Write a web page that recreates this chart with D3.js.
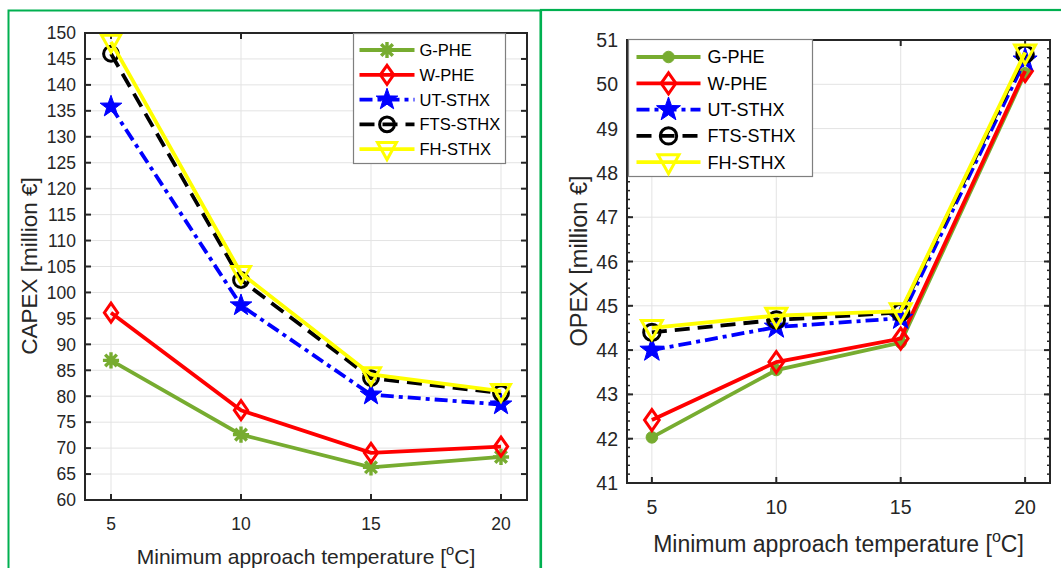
<!DOCTYPE html>
<html>
<head>
<meta charset="utf-8">
<script src="https://cdn.jsdelivr.net/npm/d3@7"></script>
<style>
  body { margin: 0; background: #fff; }
  svg { display: block; font-family: "Liberation Sans", Arial, sans-serif; }
</style>
</head>
<body>
<svg id="chart" width="1061" height="568"></svg>
<script>
//DATA
var temps = [5, 10, 15, 20];
var seriesNames = ["G-PHE", "W-PHE", "UT-STHX", "FTS-STHX", "FH-STHX"];
var xTicks = [5, 10, 15, 20];

// CAPEX [million €]
var capexGPHE = [86.9, 72.6, 66.3, 68.3];
var capexWPHE = [96.1, 77.3, 69.1, 70.3];
var capexUT = [135.8, 97.5, 80.3, 78.4];
var capexFTS = [146.0, 102.4, 83.5, 80.6];
var capexFH = [148.3, 103.7, 84.2, 81.0];
var capexTicks = [60, 65, 70, 75, 80, 85, 90, 95, 100, 105, 110, 115, 120, 125, 130, 135, 140, 145, 150];

// OPEX [million €]
var opexGPHE = [42.03, 43.55, 44.17, 50.25];
var opexWPHE = [42.42, 43.73, 44.26, 50.30];
var opexUT = [44.00, 44.52, 44.72, 50.55];
var opexFTS = [44.40, 44.68, 44.85, 50.68];
var opexFH = [44.50, 44.78, 44.88, 50.72];
var opexTicks = [41, 42, 43, 44, 45, 46, 47, 48, 49, 50, 51];

//STYLE PER SERIES
var colors = ["#77ac30", "#ff0000", "#0000ff", "#000000", "#ffff00"];
var dashes = [null, null, "13,5,4,5", "15,8", null];
var textColor = "#262626";
var svg = d3.select("#chart");

// marker paths (centered at 0,0), s = scale
function markerPath(type, s) {
    var p = d3.path();
    if (type == "asterisk") {
        var r = 8.5 * s;
        var d = r * 0.72;
        p.moveTo(-r, 0); p.lineTo(r, 0);
        p.moveTo(0, -r); p.lineTo(0, r);
        p.moveTo(-d, -d); p.lineTo(d, d);
        p.moveTo(-d, d); p.lineTo(d, -d);
    } else if (type == "diamond") {
        var w = 7 * s, h = 10 * s;
        p.moveTo(0, -h); p.lineTo(w, 0); p.lineTo(0, h); p.lineTo(-w, 0); p.closePath();
    } else if (type == "star") {
        var R = 12 * s, ri = R * 0.40;
        for (var i = 0; i < 10; i++) {
            var a = -Math.PI / 2 + i * Math.PI / 5;
            var rr = (i % 2 == 0) ? R : ri;
            if (i == 0) p.moveTo(rr * Math.cos(a), rr * Math.sin(a));
            else p.lineTo(rr * Math.cos(a), rr * Math.sin(a));
        }
        p.closePath();
    } else if (type == "circle" || type == "dot") {
        var rc = (type == "dot" ? 5.5 : 7.8) * s;
        p.arc(0, 0, rc, 0, 2 * Math.PI);
    } else if (type == "triangle") {
        var tw = 10 * s, th = 7 * s;
        p.moveTo(-tw, -th); p.lineTo(tw, -th); p.lineTo(0, th + 4 * s); p.closePath();
    }
    return p.toString();
}

function drawMarker(g, type, i, x, y, s) {
    var filled = (type == "star" || type == "dot");
    g.append("path")
        .attr("d", markerPath(type, s))
        .attr("transform", "translate(" + x + "," + y + ")")
        .attr("fill", filled ? colors[i] : "none")
        .attr("stroke", colors[i])
        .attr("stroke-width", type == "asterisk" ? 3.4 : (filled ? 1 : 3))
        .attr("stroke-linejoin", "miter");
}

function drawPanel(cfg) {
    var x = d3.scaleLinear().domain([4, 21]).range([cfg.left, cfg.right]);
    var y = d3.scaleLinear().domain(cfg.yDomain).range([cfg.bottom, cfg.top]);
    var g = svg.append("g");

    //grid
    g.selectAll("line.gx").data(xTicks).join("line")
        .attr("x1", d => x(d)).attr("x2", d => x(d))
        .attr("y1", cfg.top).attr("y2", cfg.bottom)
        .attr("stroke", "#e3e3e3").attr("stroke-width", 1);
    g.selectAll("line.gy").data(cfg.yTicks).join("line")
        .attr("x1", cfg.left).attr("x2", cfg.right)
        .attr("y1", d => y(d)).attr("y2", d => y(d))
        .attr("stroke", "#e3e3e3").attr("stroke-width", 1);

    //minor ticks (right panel only)
    if (cfg.minor) {
        var minor = d3.range(cfg.yDomain[0], cfg.yDomain[1] + 0.001, 0.2);
        [cfg.left, cfg.right].forEach(function (xx, k) {
            g.selectAll(null).data(minor).join("line")
                .attr("x1", xx).attr("x2", xx + (k == 0 ? 3 : -3))
                .attr("y1", d => y(d)).attr("y2", d => y(d))
                .attr("stroke", textColor).attr("stroke-width", 1.5);
        });
    }

    //major ticks, inward on all sides
    [cfg.left, cfg.right].forEach(function (xx, k) {
        g.selectAll(null).data(cfg.yTicks).join("line")
            .attr("x1", xx).attr("x2", xx + (k == 0 ? 6 : -6))
            .attr("y1", d => y(d)).attr("y2", d => y(d))
            .attr("stroke", textColor).attr("stroke-width", 2);
    });
    [cfg.bottom, cfg.top].forEach(function (yy, k) {
        g.selectAll(null).data(xTicks).join("line")
            .attr("x1", d => x(d)).attr("x2", d => x(d))
            .attr("y1", yy).attr("y2", yy + (k == 0 ? -6 : 6))
            .attr("stroke", textColor).attr("stroke-width", 2);
    });

    //series
    cfg.series.forEach(function (vals, i) {
        var pts = temps.map((t, j) => [x(t), y(vals[j])]);
        g.append("path")
            .attr("d", d3.line()(pts))
            .attr("fill", "none")
            .attr("stroke", colors[i])
            .attr("stroke-width", 3.8)
            .attr("stroke-dasharray", dashes[i]);
        pts.forEach(function (pt) {
            drawMarker(g, cfg.markers[i], i, pt[0], pt[1], cfg.ms);
        });
    });

    //axes box
    g.append("rect")
        .attr("x", cfg.left).attr("y", cfg.top)
        .attr("width", cfg.right - cfg.left).attr("height", cfg.bottom - cfg.top)
        .attr("fill", "none").attr("stroke", textColor).attr("stroke-width", 2);

    //tick labels
    g.selectAll(null).data(cfg.yTicks).join("text")
        .attr("x", cfg.left - 9).attr("y", d => y(d))
        .attr("dy", "0.36em")
        .attr("text-anchor", "end")
        .attr("font-size", cfg.tickFont)
        .attr("fill", textColor)
        .text(d => d);
    g.selectAll(null).data(xTicks).join("text")
        .attr("x", d => x(d)).attr("y", cfg.xTickY)
        .attr("dy", "0.36em")
        .attr("text-anchor", "middle")
        .attr("font-size", cfg.tickFont)
        .attr("fill", textColor)
        .text(d => d);

    //axis labels
    var xl = g.append("text")
        .attr("x", (cfg.left + cfg.right) / 2).attr("y", cfg.xLabelY)
        .attr("text-anchor", "middle")
        .attr("font-size", cfg.labelFont)
        .attr("fill", textColor);
    xl.append("tspan").text("Minimum approach temperature [");
    xl.append("tspan").attr("font-size", cfg.labelFont * 0.7).attr("dy", -cfg.labelFont * 0.42).text("o");
    xl.append("tspan").attr("dy", cfg.labelFont * 0.42).text("C]");

    g.append("text")
        .attr("transform", "translate(" + cfg.yLabelX + "," + cfg.yLabelY + ") rotate(-90)")
        .attr("text-anchor", "middle")
        .attr("font-size", cfg.yLabelFont)
        .attr("fill", textColor)
        .text(cfg.yLabel);

    //legend
    var lg = cfg.legend;
    g.append("rect")
        .attr("x", lg.x).attr("y", lg.y).attr("width", lg.w).attr("height", lg.h)
        .attr("fill", "#fff").attr("stroke", "#7f7f7f").attr("stroke-width", 1.2);
    seriesNames.forEach(function (name, i) {
        var yy = lg.y + lg.first + i * lg.step;
        g.append("line")
            .attr("x1", lg.x + lg.l1).attr("x2", lg.x + lg.l2)
            .attr("y1", yy).attr("y2", yy)
            .attr("stroke", colors[i]).attr("stroke-width", 3.8)
            .attr("stroke-dasharray", dashes[i]);
        drawMarker(g, cfg.markers[i], i, lg.x + (lg.l1 + lg.l2) / 2, yy, cfg.ms);
        g.append("text")
            .attr("x", lg.x + lg.tx).attr("y", yy)
            .attr("dy", "0.36em")
            .attr("font-size", lg.font)
            .attr("fill", "#000")
            .text(name);
    });
}

//green panel frames
svg.append("rect").attr("x", 8.5).attr("y", 10.5).attr("width", 532).attr("height", 600)
    .attr("fill", "none").attr("stroke", "#00b050").attr("stroke-width", 2);
svg.append("rect").attr("x", 541).attr("y", 10).attr("width", 560).attr("height", 600)
    .attr("fill", "none").attr("stroke", "#00b050").attr("stroke-width", 2.2);

//left panel: CAPEX
drawPanel({
    left: 85, right: 527, top: 33, bottom: 500,
    yDomain: [60, 150], yTicks: capexTicks, minor: false,
    series: [capexGPHE, capexWPHE, capexUT, capexFTS, capexFH],
    markers: ["asterisk", "diamond", "star", "circle", "triangle"],
    ms: 0.95,
    tickFont: 17.5, labelFont: 21, yLabelFont: 22.5,
    xTickY: 524, xLabelY: 564,
    yLabel: "CAPEX [million €]", yLabelX: 37, yLabelY: 266,
    legend: { x: 353.5, y: 33.5, w: 152, h: 130, first: 16.5, step: 24.8, l1: 6, l2: 61, tx: 66, font: 16.5 }
});

//right panel: OPEX
drawPanel({
    left: 627, right: 1050, top: 40, bottom: 483,
    yDomain: [41, 51], yTicks: opexTicks, minor: true,
    series: [opexGPHE, opexWPHE, opexUT, opexFTS, opexFH],
    markers: ["dot", "diamond", "star", "circle", "triangle"],
    ms: 1.05,
    tickFont: 19.5, labelFont: 23, yLabelFont: 23.5,
    xTickY: 507, xLabelY: 552,
    yLabel: "OPEX [million €]", yLabelX: 587, yLabelY: 261,
    legend: { x: 628.5, y: 39.5, w: 184, h: 137, first: 17.5, step: 26.3, l1: 8, l2: 72, tx: 79, font: 18 }
});
</script>
</body>
</html>
